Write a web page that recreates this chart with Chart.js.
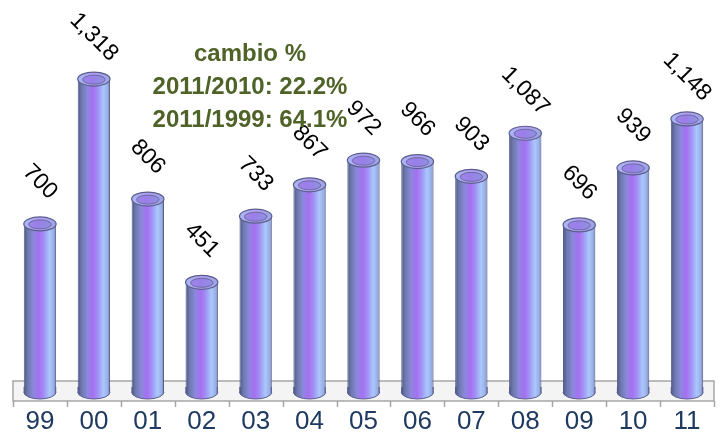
<!DOCTYPE html>
<html>
<head>
<meta charset="utf-8">
<script src="https://cdn.jsdelivr.net/npm/chart.js@4"></script>
<style>
  html, body { margin: 0; padding: 0; background: #fff; }
  #wrap { width: 726px; height: 443px; }
</style>
</head>
<body>
<div id="wrap"><canvas id="chart"></canvas></div>
<script>
const years = ["99", "00", "01", "02", "03", "04", "05", "06", "07", "08", "09", "10", "11"];
const values = [700, 1318, 806, 451, 733, 867, 972, 966, 903, 1087, 696, 939, 1148];
const notes = ["cambio %", "2011/2010: 22.2%", "2011/1999: 64.1%"];

function bodyGrad(c, x0, x1) {
  const g = c.createLinearGradient(x0, 0, x1, 0);
  g.addColorStop(0, "#4c5585");
  g.addColorStop(0.12, "#6c79ac");
  g.addColorStop(0.3, "#8c88dc");
  g.addColorStop(0.47, "#a66ff2");
  g.addColorStop(0.62, "#a090f4");
  g.addColorStop(0.8, "#aac8fb");
  g.addColorStop(0.93, "#98aee6");
  g.addColorStop(1, "#6a76a6");
  return g;
}

function topGrad(c, x0, x1) {
  const g = c.createLinearGradient(x0, 0, x1, 0);
  g.addColorStop(0, "#a9b8f2");
  g.addColorStop(0.5, "#b49cf2");
  g.addColorStop(1, "#9aa6e4");
  return g;
}

function innerGrad(c, x0, x1) {
  const g = c.createLinearGradient(x0, 0, x1, 0);
  g.addColorStop(0, "#a08af0");
  g.addColorStop(0.45, "#9a7ee8");
  g.addColorStop(1, "#8c9ae0");
  return g;
}

// floor box and tick marks
const floorPlugin = {
  id: "floor",
  beforeDatasetsDraw(chart) {
    const c = chart.ctx, a = chart.chartArea;
    const base = a.bottom;
    c.save();
    c.fillStyle = "#f4f4f4";
    c.fillRect(a.left, base - 7, a.right - a.left, 20);
    c.strokeStyle = "#a6a6a6";
    c.lineWidth = 1.5;
    c.strokeRect(a.left, base - 7, a.right - a.left, 20);
    const step = (a.right - a.left) / years.length;
    c.beginPath();
    for (let i = 0; i <= years.length; i++) {
      const tx = Math.round(a.left + i * step) + 0.5;
      c.moveTo(tx, base + 13);
      c.lineTo(tx, base + 19);
    }
    c.stroke();
    c.restore();
  }
};

// cylinder caps
const capsPlugin = {
  id: "caps",
  afterDatasetsDraw(chart) {
    const c = chart.ctx;
    const meta = chart.getDatasetMeta(0);
    c.save();
    meta.data.forEach((bar) => {
      const w = bar.width, x0 = bar.x - w / 2, x1 = bar.x + w / 2;
      const rx = w / 2, ry = 7;
      // bottom rounded end
      c.fillStyle = bodyGrad(c, x0, x1);
      c.fillRect(x0, bar.base - 1, w, 5);
      c.beginPath();
      c.ellipse(bar.x, bar.base + 4, rx, ry, 0, 0, Math.PI);
      c.fill();
      c.strokeStyle = "#5a5e8c";
      c.lineWidth = 1;
      c.stroke();
      c.beginPath();
      c.moveTo(x0 + 0.5, bar.base - 1);
      c.lineTo(x0 + 0.5, bar.base + 4);
      c.moveTo(x1 - 0.5, bar.base - 1);
      c.lineTo(x1 - 0.5, bar.base + 4);
      c.stroke();
      // top opening
      c.beginPath();
      c.ellipse(bar.x, bar.y, rx, ry, 0, 0, Math.PI * 2);
      c.fillStyle = topGrad(c, x0, x1);
      c.fill();
      c.strokeStyle = "#5a5e8c";
      c.lineWidth = 1.2;
      c.stroke();
      c.beginPath();
      c.ellipse(bar.x, bar.y + 0.5, rx - 5, ry - 2.5, 0, 0, Math.PI * 2);
      c.fillStyle = innerGrad(c, x0, x1);
      c.fill();
      c.strokeStyle = "#6a6aa0";
      c.lineWidth = 1;
      c.stroke();
    });
    c.restore();
  }
};

// rotated value labels
const labelPlugin = {
  id: "valueLabels",
  afterDatasetsDraw(chart) {
    const c = chart.ctx;
    const meta = chart.getDatasetMeta(0);
    c.save();
    c.font = "23px 'Liberation Sans', Arial, sans-serif";
    c.fillStyle = "#000";
    c.textAlign = "center";
    c.textBaseline = "middle";
    meta.data.forEach((bar, i) => {
      c.save();
      c.translate(bar.x, bar.y - 42);
      c.rotate(Math.PI / 4);
      c.fillText(values[i].toLocaleString("en-US"), 0, 0);
      c.restore();
    });
    c.restore();
  }
};

// change note
const notePlugin = {
  id: "note",
  afterDraw(chart) {
    const c = chart.ctx;
    c.save();
    c.font = "bold 24px 'Liberation Sans', Arial, sans-serif";
    c.fillStyle = "#4f6228";
    c.textAlign = "center";
    c.textBaseline = "middle";
    notes.forEach((t, i) => c.fillText(t, 250, 54 + i * 33));
    c.restore();
  }
};

new Chart("chart", {
  type: "bar",
  data: {
    labels: years,
    datasets: [
      {
        data: values,
        backgroundColor: (ctx) => {
          const chart = ctx.chart;
          if (!chart.chartArea) return "#9a88ee";
          const x = chart.scales.x;
          const cx = x.getPixelForValue(ctx.dataIndex);
          const w = (chart.chartArea.right - chart.chartArea.left) / years.length * 0.6;
          return bodyGrad(chart.ctx, cx - w / 2, cx + w / 2);
        },
        borderColor: "#5a5e8c",
        borderWidth: { left: 1, right: 1, top: 0, bottom: 0 },
        barPercentage: 0.6,
        categoryPercentage: 1,
      },
    ],
  },
  options: {
    responsive: true,
    maintainAspectRatio: false,
    animation: false,
    layout: { padding: { top: 13, left: 13, right: 12, bottom: 4 } },
    plugins: {
      legend: { display: false },
      tooltip: { enabled: false },
    },
    scales: {
      x: {
        grid: { display: false, drawTicks: false },
        border: { display: false },
        afterFit: (scale) => { scale.height = 51; },
        ticks: {
          color: "#1f3a60",
          padding: 18,
          maxRotation: 0,
          font: { size: 26, family: "'Liberation Sans', Arial, sans-serif" },
        },
      },
      y: {
        display: false,
        min: 0,
        max: 1600,
      },
    },
  },
  plugins: [floorPlugin, capsPlugin, labelPlugin, notePlugin],
});
</script>
</body>
</html>
